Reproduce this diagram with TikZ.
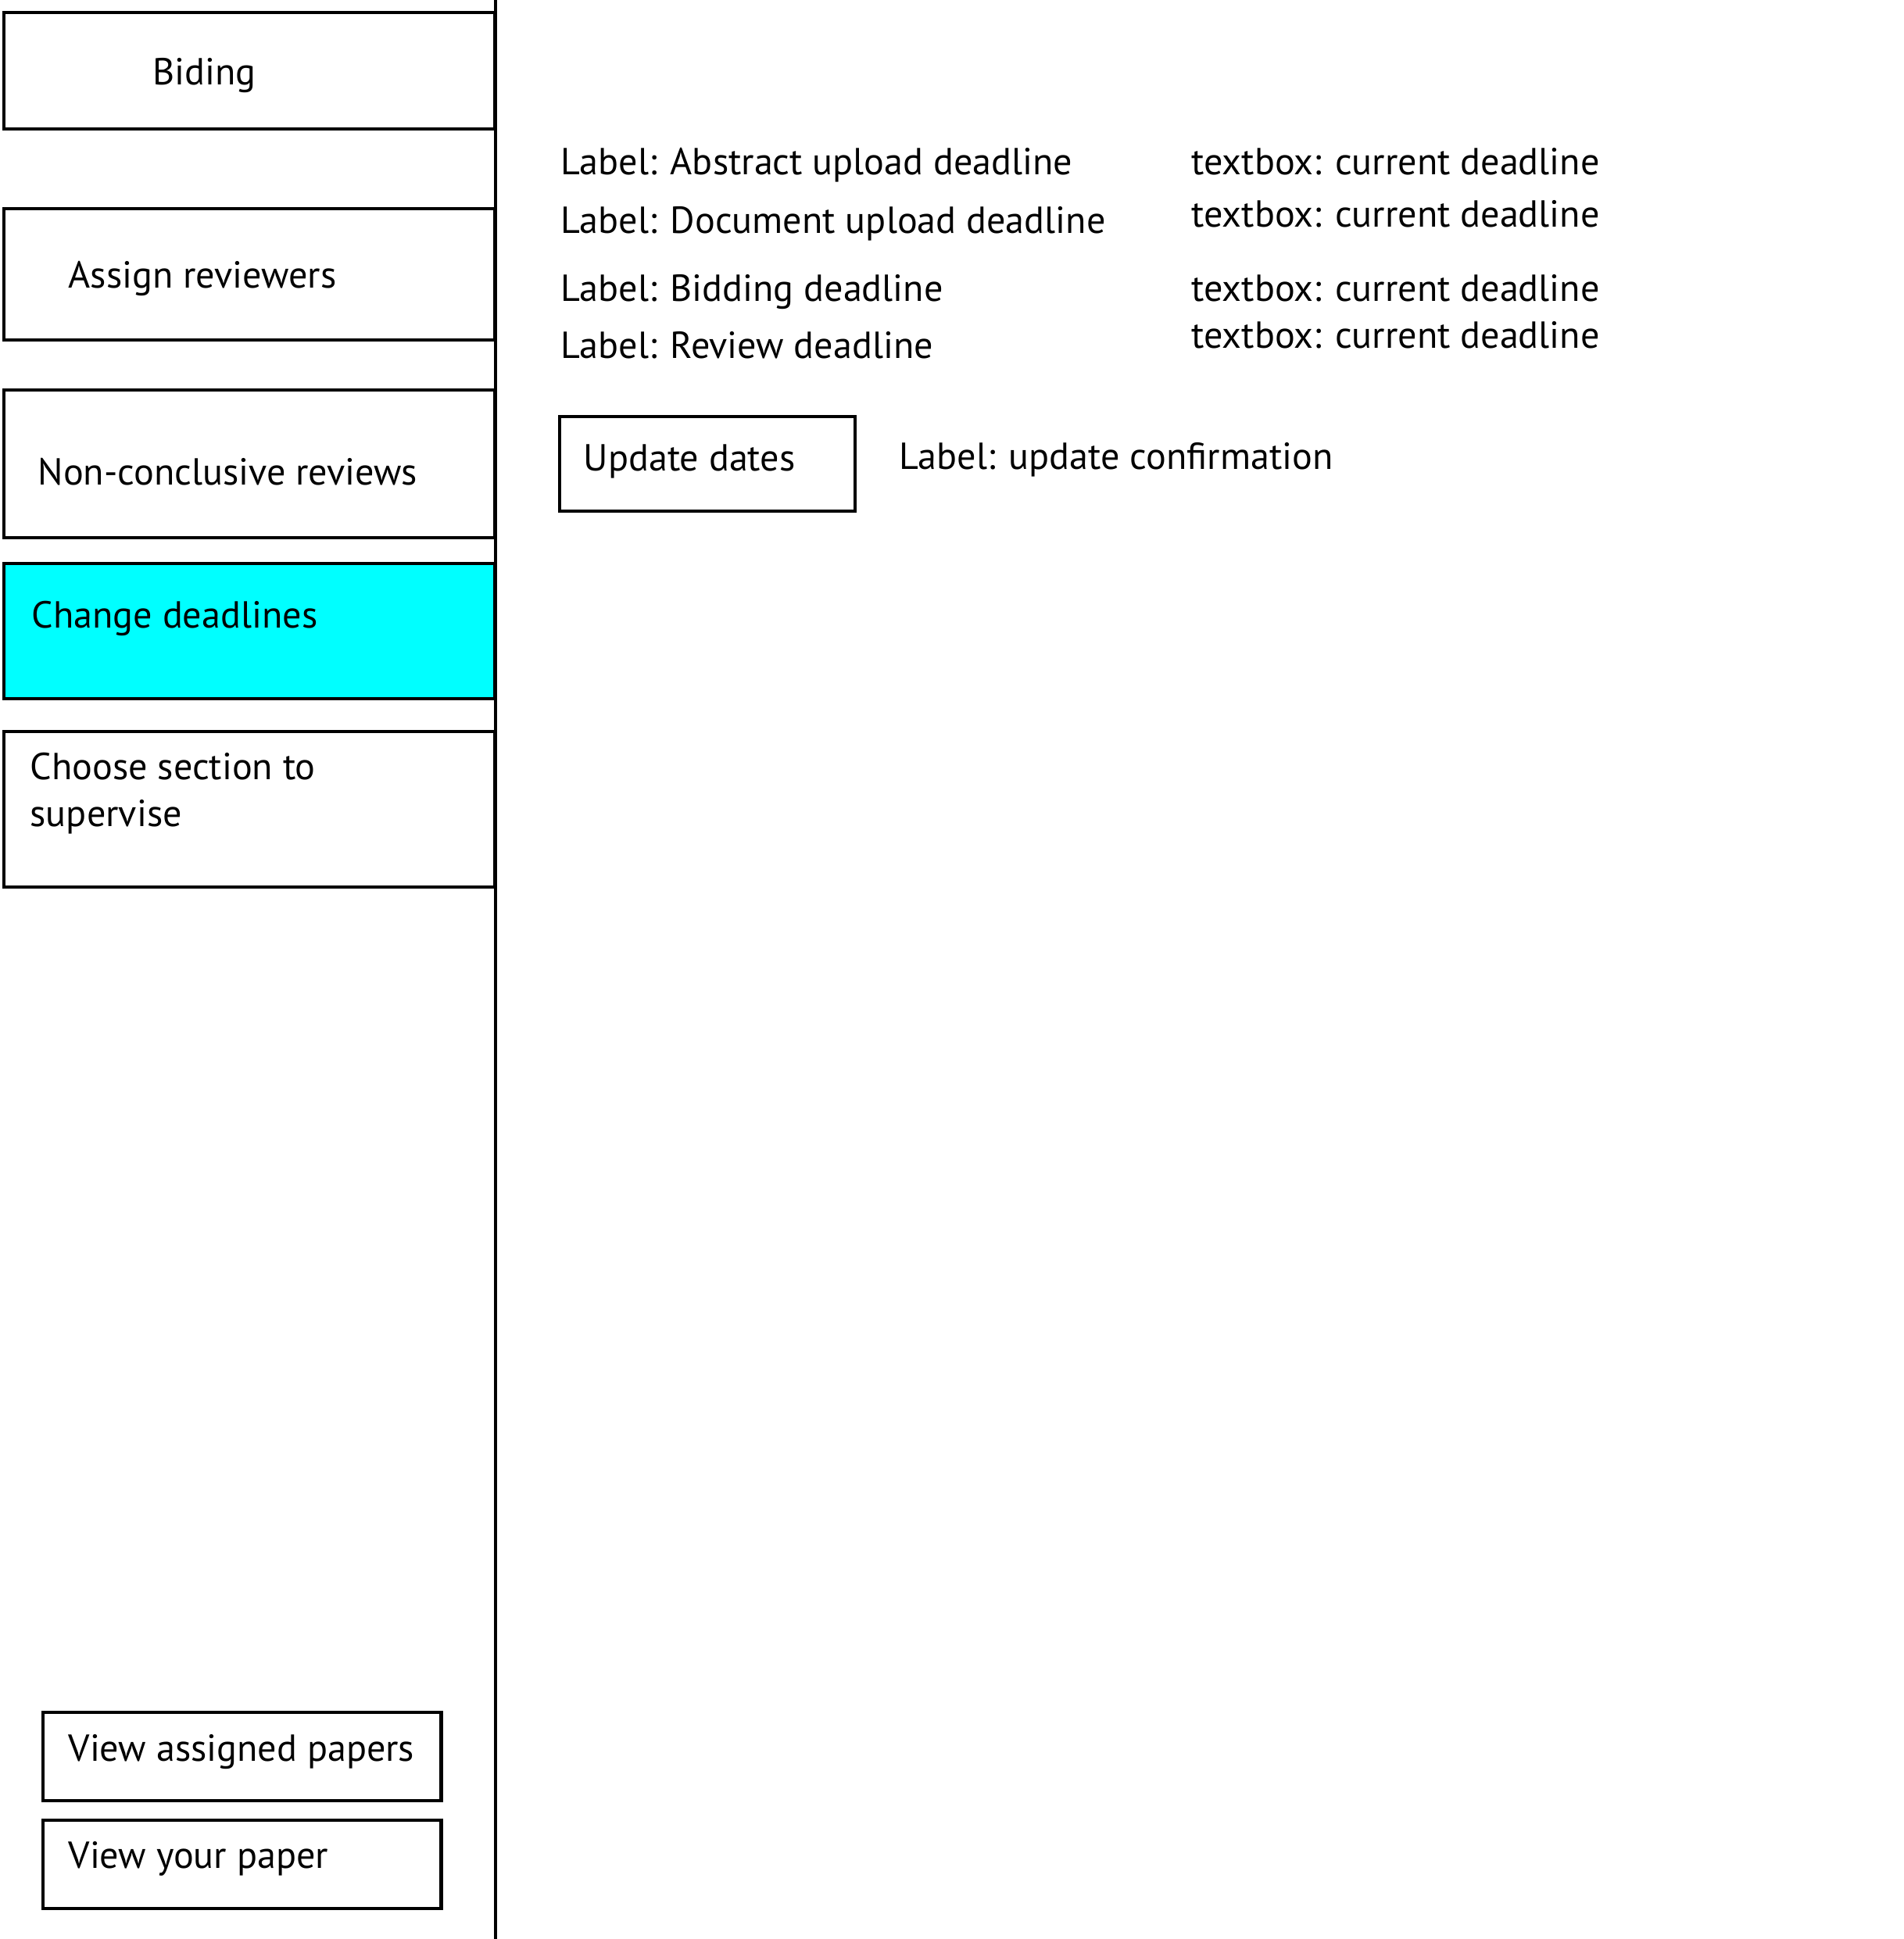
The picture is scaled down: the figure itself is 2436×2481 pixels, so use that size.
\documentclass[tikz,border=0pt]{standalone}
\usepackage{fontspec}
\setmainfont{PT Sans}
\usetikzlibrary{positioning}
\definecolor{activecyan}{RGB}{0,255,255}
\tikzset{
  menubox/.style={draw=black, line width=1.2pt, inner sep=0pt, anchor=north west},
  txt/.style={inner sep=0pt, anchor=base west, font=\fontsize{13.7pt}{17pt}\selectfont}
}

\begin{document}
\begin{tikzpicture}[x=0.01cm, y=-0.01cm]
    \useasboundingbox (0,0) rectangle (2436,2481);

    % side menu
    \node[menubox, minimum width=6.28cm, minimum height=1.49cm] (biding) at (3,14) {};
    \node[menubox, minimum width=6.28cm, minimum height=1.68cm] (assign) at (3,265) {};
    \node[menubox, minimum width=6.28cm, minimum height=1.89cm] (nonconc) at (3,497) {};
    \node[menubox, fill=activecyan, minimum width=6.28cm, minimum height=1.73cm] (change) at (3,719) {};
    \node[menubox, minimum width=6.28cm, minimum height=1.99cm] (choose) at (3,934) {};
    \node[menubox, minimum width=5.09cm, minimum height=1.13cm] (viewassigned) at (53,2189) {};
    \node[menubox, minimum width=5.09cm, minimum height=1.13cm] (viewpaper) at (53,2327) {};

    \node[txt] (biding-t) at (195,108) {Biding};
    \node[txt] (assign-t) at (87,368) {Assign reviewers};
    \node[txt] (nonconc-t) at (48,620) {Non-conclusive reviews};
    \node[txt] (change-t) at (40,803) {Change deadlines};
    \node[txt] (choose-t) at (38,997) {Choose section to};
    \node[txt] (choose-t2) at (38,1057) {supervise};
    \node[txt] (viewassigned-t) at (87,2253) {View assigned papers};
    \node[txt] (viewpaper-t) at (87,2390) {View your paper};

    % divider
    \coordinate (div-top) at (634,0);
    \coordinate (div-bot) at (634,2481);
    \draw[line width=1.2pt] (div-top) -- (div-bot);

    % deadline form
    \node[txt] (lab-abstract) at (717,223) {Label: Abstract upload deadline};
    \node[txt] (lab-document) at (717,298) {Label: Document upload deadline};
    \node[txt] (lab-bidding) at (717,385) {Label: Bidding deadline};
    \node[txt] (lab-review) at (717,458) {Label: Review deadline};

    \node[txt] (tb-abstract) at (1524,223) {textbox: current deadline};
    \node[txt] (tb-document) at (1524,290) {textbox: current deadline};
    \node[txt] (tb-bidding) at (1524,385) {textbox: current deadline};
    \node[txt] (tb-review) at (1524,445) {textbox: current deadline};

    \node[menubox, minimum width=3.78cm, minimum height=1.21cm] (update) at (714,531) {};
    \node[txt] (update-t) at (746,602) {Update dates};
    \node[txt] (lab-confirm) at (1150,600) {Label: update confirmation};

  \end{tikzpicture}
\end{document}
